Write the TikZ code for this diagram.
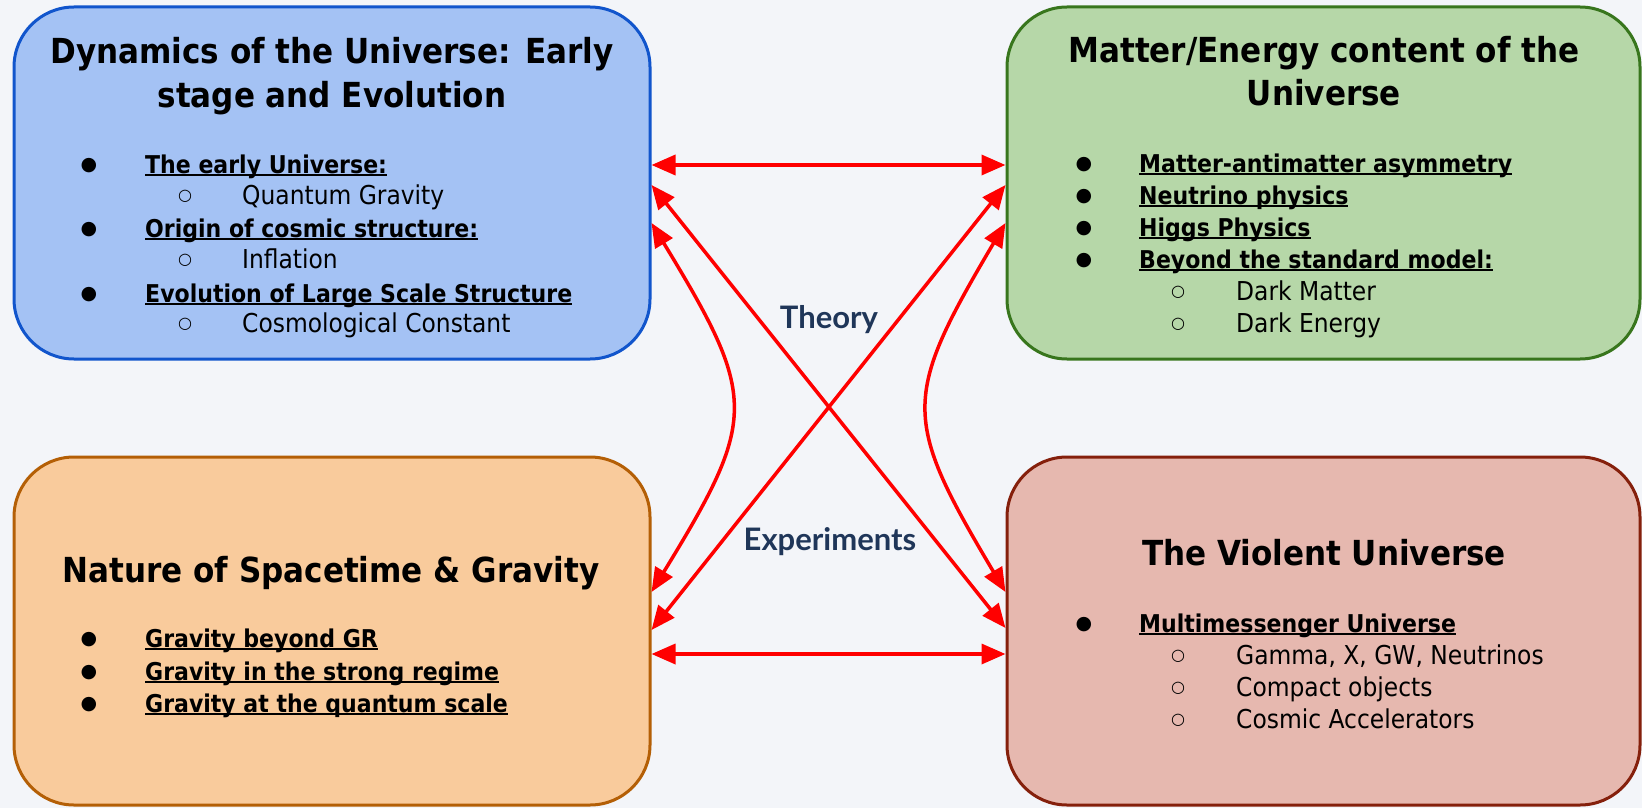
\documentclass[tikz,border=0pt]{standalone}
\usepackage{fontspec}
\setmainfont{DejaVu Sans Condensed}
\newfontfamily\labelfont{Lato}
\newfontfamily\symfont{DejaVu Sans}
\usetikzlibrary{arrows.meta}
\definecolor{bgc}{HTML}{F3F5F9}
\definecolor{bluef}{HTML}{A4C2F4}\definecolor{bluel}{HTML}{1155CC}
\definecolor{greenf}{HTML}{B6D7A8}\definecolor{greenl}{HTML}{38761D}
\definecolor{orangef}{HTML}{F9CB9C}\definecolor{orangel}{HTML}{B45F06}
\definecolor{redf}{HTML}{E6B8AF}\definecolor{redl}{HTML}{85200C}
\definecolor{labc}{HTML}{1F3659}
\definecolor{arrc}{HTML}{FF0000}
\newcommand\myul[1]{\setbox0\hbox{#1}\rlap{\rule[-0.13em]{\wd0}{0.1em}}\box0}
\tikzset{
  bigbox/.style={draw, line width=3pt, rounded corners=60pt, inner sep=0pt},
  ttl/.style={font=\bfseries\fontsize{34.5}{43}\selectfont, anchor=base, inner sep=0pt},
  itm/.style={font=\bfseries\fontsize{24.5}{32}\selectfont, anchor=base west, inner sep=0pt},
  sub/.style={font=\fontsize{26}{32}\selectfont, anchor=base west, inner sep=0pt},
  bul/.style={font=\symfont\fontsize{19}{19}\selectfont, anchor=base, inner sep=0pt, yshift=2.5pt},
  sbul/.style={font=\symfont\fontsize{16}{16}\selectfont, anchor=base, inner sep=0pt, yshift=4pt},
  arr/.style={arrc, line width=3.5pt, {Triangle[length=24pt,width=20pt]}-{Triangle[length=24pt,width=20pt]}},
  lab/.style={font=\labelfont\bfseries\fontsize{31}{31}\selectfont, text=labc, anchor=base, inner sep=0pt}
}
\begin{document}
\begin{tikzpicture}[x=1pt,y=-1pt]
\fill[bgc] (0,0) rectangle (1642,808);
\useasboundingbox (0,0) rectangle (1642,808);
% boxes
\node[bigbox, fill=bluef, draw=bluel, minimum width=636pt, minimum height=352pt] (dyn) at (332,183) {};
\node[bigbox, fill=greenf, draw=greenl, minimum width=633pt, minimum height=352pt] (mat) at (1323.5,183) {};
\node[bigbox, fill=orangef, draw=orangel, minimum width=636pt, minimum height=348pt] (nat) at (332,631) {};
\node[bigbox, fill=redf, draw=redl, minimum width=633pt, minimum height=348pt] (vio) at (1323.5,631) {};
% titles
\node[ttl] (t1a) at (332,63.5) {Dynamics of the Universe: Early};
\node[ttl] (t1b) at (332,107) {stage and Evolution};
\node[ttl] (t2a) at (1324,63) {Matter/Energy content of the};
\node[ttl] (t2b) at (1324,106) {Universe};
\node[ttl] (t3) at (331,582) {Nature of Spacetime \& Gravity};
\node[ttl] (t4) at (1324,565) {The Violent Universe};
% blue items
\node[bul] (b1) at (89,173) {●}; \node[itm] (i1) at (145,173) {\myul{The early Universe:}};
\node[sbul] (b2) at (185,204) {○}; \node[sub] (i2) at (242,204) {Quantum Gravity};
\node[bul] (b3) at (89,237) {●}; \node[itm] (i3) at (145,237) {\myul{Origin of cosmic structure:}};
\node[sbul] (b4) at (185,268) {○}; \node[sub] (i4) at (242,268) {Inflation};
\node[bul] (b5) at (89,302) {●}; \node[itm] (i5) at (145,302) {\myul{Evolution of Large Scale Structure}};
\node[sbul] (b6) at (185,332) {○}; \node[sub] (i6) at (242,332) {Cosmological Constant};
% green items
\node[bul] (g1) at (1084,172) {●}; \node[itm] (j1) at (1139,172) {\myul{Matter-antimatter asymmetry}};
\node[bul] (g2) at (1084,204) {●}; \node[itm] (j2) at (1139,204) {\myul{Neutrino physics}};
\node[bul] (g3) at (1084,236) {●}; \node[itm] (j3) at (1139,236) {\myul{Higgs Physics}};
\node[bul] (g4) at (1084,268) {●}; \node[itm] (j4) at (1139,268) {\myul{Beyond the standard model:}};
\node[sbul] (g5) at (1178,300) {○}; \node[sub] (j5) at (1236,300) {Dark Matter};
\node[sbul] (g6) at (1178,332) {○}; \node[sub] (j6) at (1236,332) {Dark Energy};
% orange items
\node[bul] (o1) at (89,647) {●}; \node[itm] (k1) at (145,647) {\myul{Gravity beyond GR}};
\node[bul] (o2) at (89,680) {●}; \node[itm] (k2) at (145,680) {\myul{Gravity in the strong regime}};
\node[bul] (o3) at (89,712) {●}; \node[itm] (k3) at (145,712) {\myul{Gravity at the quantum scale}};
% red items
\node[bul] (r1) at (1084,632) {●}; \node[itm] (m1) at (1139,632) {\myul{Multimessenger Universe}};
\node[sbul] (r2) at (1178,664) {○}; \node[sub] (m2) at (1236,664) {Gamma, X, GW, Neutrinos};
\node[sbul] (r3) at (1178,696) {○}; \node[sub] (m3) at (1236,696) {Compact objects};
\node[sbul] (r4) at (1178,728) {○}; \node[sub] (m4) at (1236,728) {Cosmic Accelerators};
% arrows
\draw[arr] ([yshift=18pt]dyn.east) -- ([yshift=18pt]mat.west);
\draw[arr] ([yshift=-23pt]nat.east) -- ([yshift=-23pt]vio.west);
\draw[arr] ([yshift=-2pt]dyn.east) -- ([yshift=3pt]vio.west);
\draw[arr] ([yshift=-2pt]mat.west) -- ([yshift=1pt]nat.east);
\draw[arr] ([yshift=-40pt]dyn.east) .. controls (758,398) and (758,418) .. ([yshift=39pt]nat.east);
\draw[arr] ([yshift=-40pt]mat.west) .. controls (902,398) and (902,418) .. ([yshift=39pt]vio.west);
% labels
\node[lab] (theory) at (829,328) {Theory};
\node[lab] (exper) at (830,550) {Experiments};
\end{tikzpicture}
\end{document}
